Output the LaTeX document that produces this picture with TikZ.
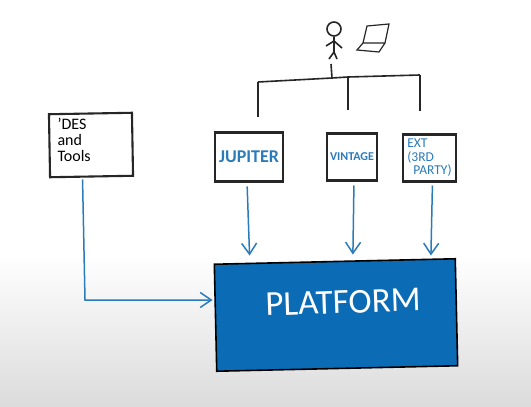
\documentclass[tikz,border=0pt]{standalone}
\usepackage{fontspec}
\setmainfont{Carlito}
\usetikzlibrary{arrows.meta,positioning}
\definecolor{inkblue}{HTML}{2B7BBA}
\definecolor{platformblue}{HTML}{0B6CB5}
\begin{document}
\begin{tikzpicture}[x=1pt,y=-1pt,
  box/.style={draw=black!85,line width=2.1pt,fill=white,outer sep=0pt},
  tree/.style={draw=black!85,line width=1.6pt},
  flow/.style={draw=inkblue,line width=1.5pt,-{Straight Barb[length=11pt,width=15pt,line width=1.5pt]}},
  bluetext/.style={text=inkblue}]
\useasboundingbox (0,0) rectangle (531,407);
\fill[white] (0,0) rectangle (531,255);
\shade[top color=white,bottom color=black!14,draw=none] (0,255) rectangle (531,407);

\node[box,minimum width=68pt,minimum height=49pt] at (249,157) (jupiter) {};
\node[box,minimum width=50pt,minimum height=47pt,right=44pt of jupiter] (vintage) {};
\node[box,minimum width=53pt,minimum height=47pt,right=26pt of vintage,yshift=-1pt] (ext) {};
\node[box,rotate=1,minimum width=83pt,minimum height=63pt] at (91,145) (ides) {};
\node[draw=black,line width=1.6pt,fill=platformblue,rotate=1.3,outer sep=0pt,minimum width=241pt,minimum height=107pt] at (336,315) (platform) {};

\node[bluetext,font=\bfseries\fontsize{18}{18}\selectfont] at (jupiter.center) (jupiterlabel) {JUPITER};
\node[bluetext,font=\bfseries\fontsize{12}{12}\selectfont] at (vintage.center) (vintagelabel) {VINTAGE};
\node[bluetext,font=\fontsize{13.5}{13.5}\selectfont,align=left] at (ext.center) (extlabel) {EXT\\(3RD\\\hspace{6pt}PARTY)};
\node[font=\fontsize{16}{16}\selectfont,align=left,anchor=north west] at (54,115) (ideslabel) {'DES\\ and\\Tools};
\node[text=white,font=\fontsize{35}{35}\selectfont,rotate=2] at (343,302) (platformlabel) {PLATFORM};

% person and laptop
\node[draw=black!85,circle,line width=1.6pt,minimum size=14pt,inner sep=0pt] at (334,29) (head) {};
\coordinate (hip) at (334,52);
\coordinate (neck) at (334,41);
\draw[tree] (head.south) -- (hip);
\draw[tree] (326,46) -- (neck) -- (342,48);
\draw[tree] (329,59) -- (hip) -- (337,59);
\draw[draw=black!85,line width=1.2pt] (363,43) -- (367,26) -- (389,24) -- (385,43) -- (363,43) -- (357,50) -- (379,52) -- (385,43);

% tree down to the boxes
\coordinate (stem) at (331,64);
\coordinate (hub) at (332,78);
\coordinate (barleft) at (258,82);
\coordinate (barmid) at (348,77);
\coordinate (barright) at (420,75);
\draw[tree] (stem) -- (hub);
\draw[tree] (barleft) -- (hub) -- (barmid) -- (barright);
\draw[tree,shorten >=16pt] (barleft) -- (barleft |- jupiter.north);
\draw[tree,shorten >=24pt] (barmid) -- (barmid |- vintage.north);
\draw[tree,shorten >=24pt] (barright) -- (barright |- ext.north);

% arrows to the platform
\draw[flow,shorten <=5pt,shorten >=6pt] ([xshift=-2pt]jupiter.south) -- ([xshift=-85pt]platform.north);
\draw[flow,shorten <=5pt,shorten >=7pt] ([xshift=2pt]vintage.south) -- ([xshift=18pt]platform.north);
\draw[flow,shorten <=4pt,shorten >=6pt] ([xshift=3pt]ext.south) -- ([xshift=96pt]platform.north);
\coordinate (idescorner) at (85,300);
\draw[flow,shorten >=3pt] ([xshift=-9pt,yshift=-3pt]ides.south) -- (idescorner) -- (idescorner -| platform.west);
\end{tikzpicture}
\end{document}
